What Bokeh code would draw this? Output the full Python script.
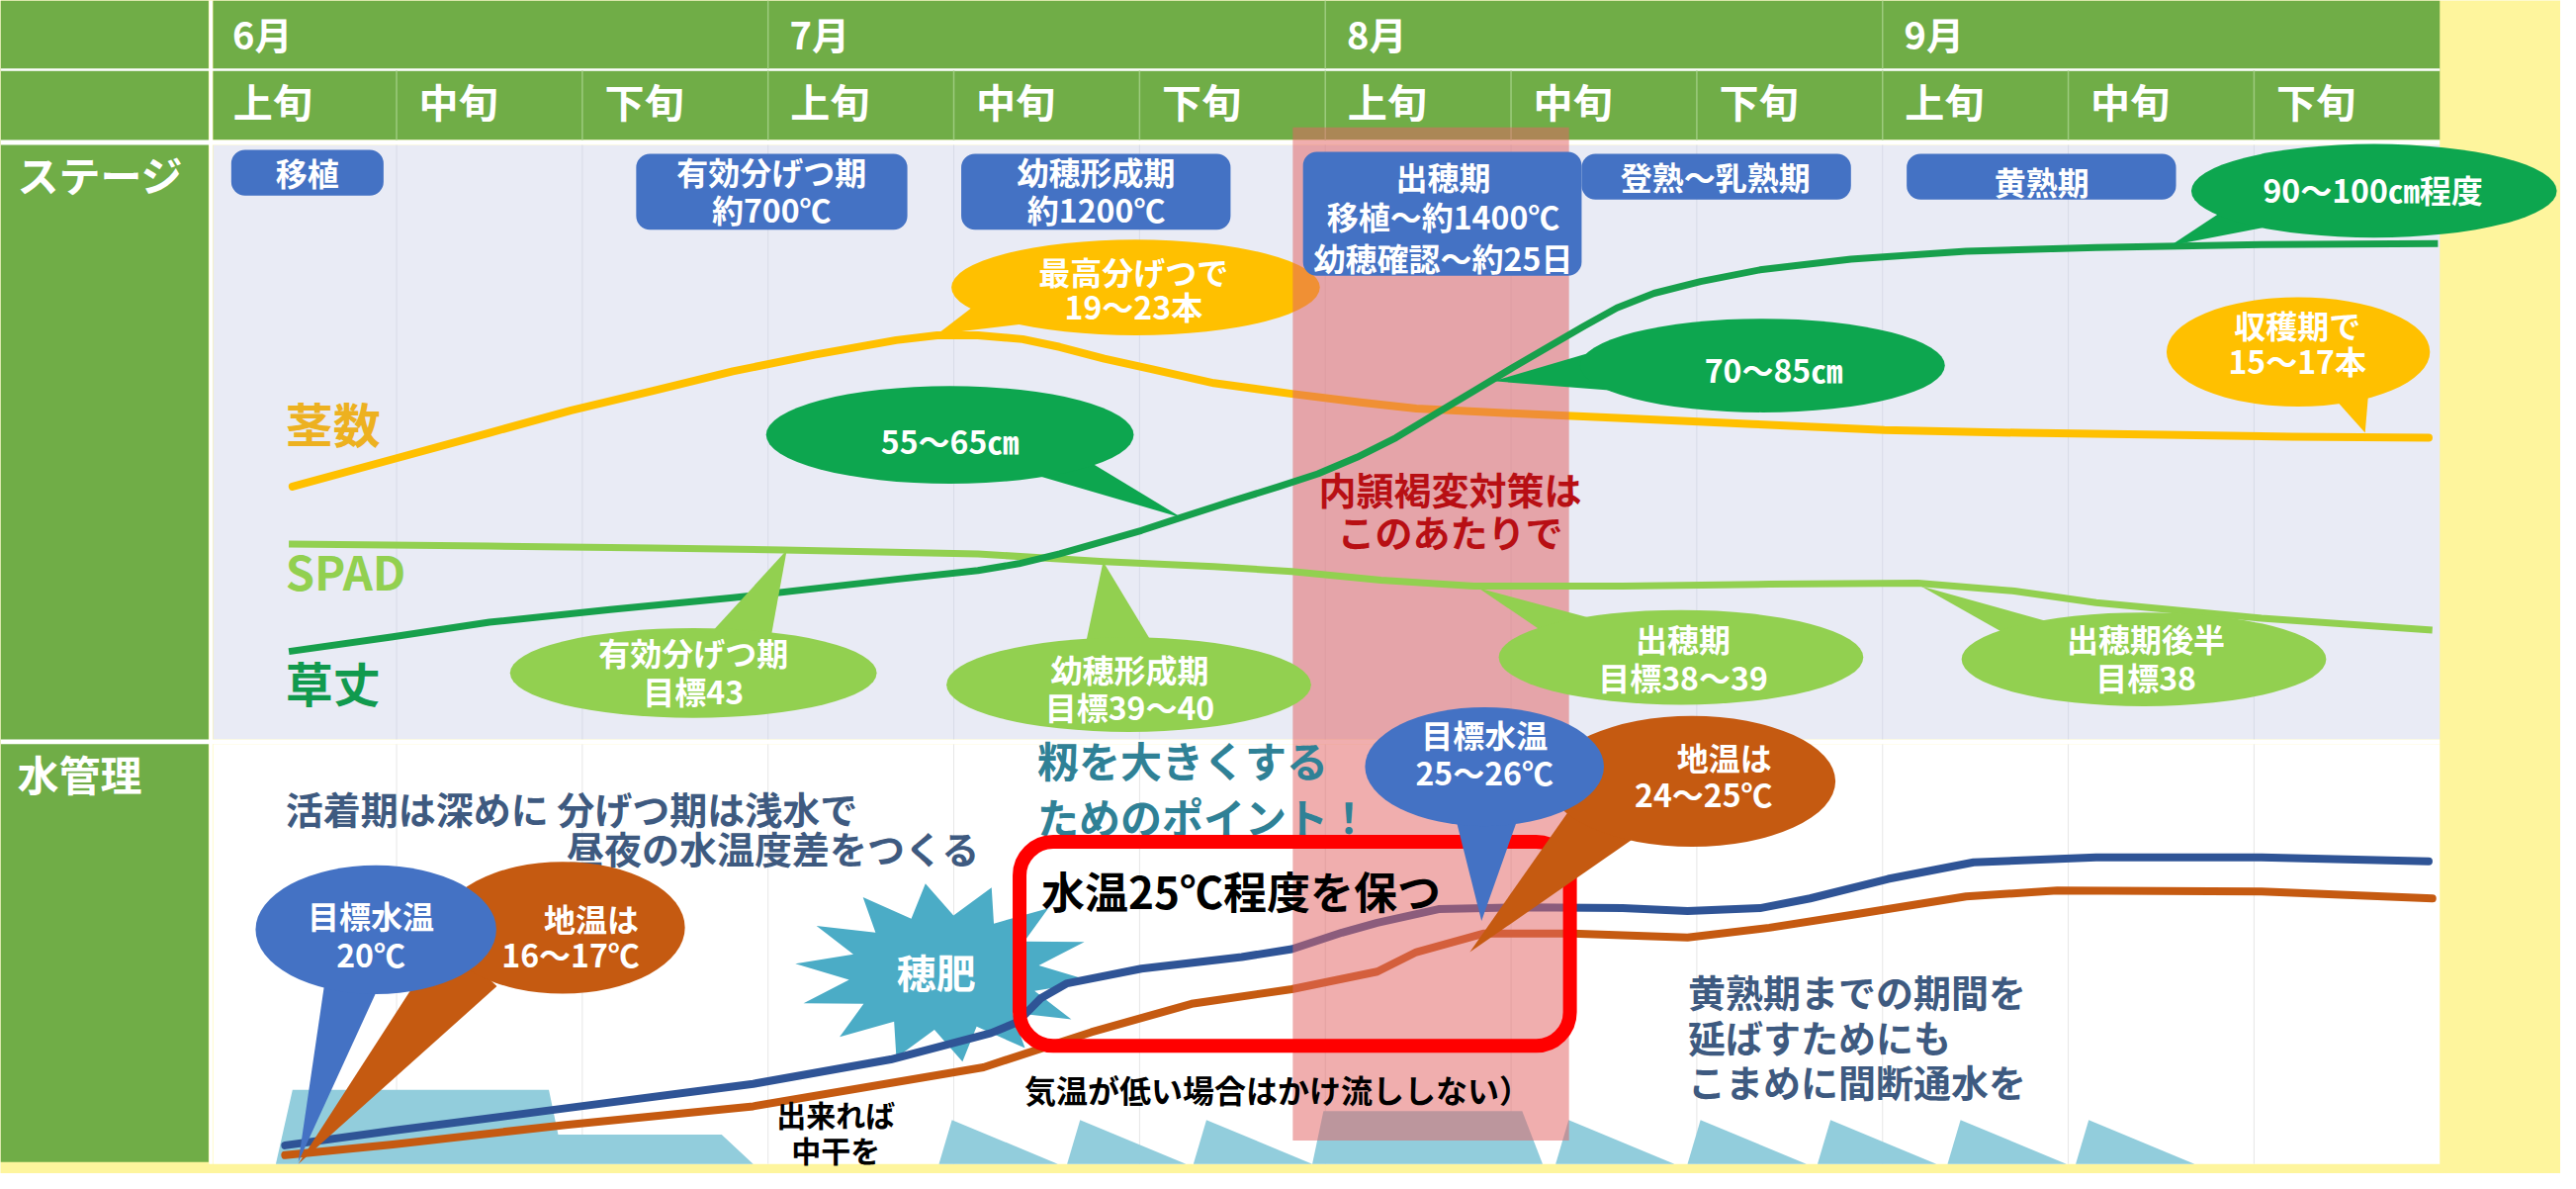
import numpy as np
from bokeh.plotting import figure
from bokeh.models import Range1d
from bokeh.core.properties import value
from bokeh.embed import file_html
from bokeh.resources import INLINE

# ---------------- data (x in dekads from 1 June, y in chart rows) ----------------
months = ["6月", "7月", "8月", "9月"]
dekads = ["上旬", "中旬", "下旬"]

stage_start = [0.11, 2.29, 4.04, 5.88, 7.38, 9.13]
stage_end = [0.93, 3.75, 5.49, 7.38, 8.83, 10.58]
stage_lines = [["移植"], ["有効分げつ期", "約700℃"], ["幼穂形成期", "約1200℃"],
               ["出穂期", "移植～約1400℃", "幼穂確認～約25日"], ["登熟～乳熟期"], ["黄熟期"]]

tiller_x = [0.44, 0.98, 1.50, 1.94, 2.38, 2.81, 3.25, 3.69, 3.91, 4.13, 4.37, 4.57, 4.81, 5.07,
            5.40, 5.82, 6.20, 6.49, 7.00, 7.60, 8.30, 9.01, 9.75, 10.51, 11.20, 11.94]
tiller_y = [498, 470, 443, 420, 400, 380, 363, 348, 343, 343, 347, 355, 367, 378,
            392, 403, 412, 418, 423, 428, 434, 440, 443, 445, 447, 448]

height_x = [0.42, 0.98, 1.50, 2.15, 2.81, 3.69, 4.13, 4.35, 4.57, 4.79, 5.01, 5.22, 5.48, 5.75,
            5.96, 6.17, 6.38, 6.59, 6.80, 7.01, 7.20, 7.39, 7.57, 7.77, 8.02, 8.34, 8.83, 9.45,
            10.15, 11.04, 11.99]
height_y = [667, 652, 637, 624, 612, 593, 584, 577, 567, 555, 543, 530, 514, 498,
            485, 468, 448, 424, 400, 376, 355, 334, 315, 300, 288, 276, 265, 257,
            253, 250, 249]

spad_x = [0.42, 1.50, 2.38, 3.08, 4.13, 4.81, 5.40, 5.82, 6.30, 6.80, 7.60, 8.39, 9.19, 9.71,
          10.15, 11.04, 11.96]
spad_y = [557, 559, 561, 563, 567, 575, 580, 585, 594, 600, 600, 598, 597, 605,
          617, 633, 645]

water_x = [0.40, 0.98, 1.91, 2.92, 3.66, 4.20, 4.34, 4.47, 4.61, 5.01, 5.55, 5.82, 6.09, 6.28,
           6.61, 7.07, 7.60, 7.95, 8.34, 8.61, 9.03, 9.49, 10.15, 11.04, 11.94]
water_y = [1173, 1158, 1135, 1110, 1085, 1058, 1047, 1022, 1007, 992, 980, 972, 955, 945,
           931, 929, 930, 933, 930, 920, 900, 883, 878, 878, 882]

soil_x = [0.40, 0.98, 1.91, 2.92, 4.16, 4.74, 5.28, 5.82, 6.28, 6.49, 6.85, 7.33, 7.95, 8.39,
          8.83, 9.45, 9.94, 11.04, 11.96]
soil_y = [1183, 1172, 1152, 1133, 1093, 1057, 1028, 1013, 995, 975, 956, 956, 960, 950,
          937, 918, 912, 913, 920]

flood_x = [0.35, 0.44, 1.82, 1.87, 2.75, 2.92]
flood_y = [1192, 1116, 1116, 1162, 1162, 1192]
heading_flood_x = [5.93, 5.99, 7.06, 7.17]
heading_flood_y = [1192, 1138, 1138, 1192]
irrigation_start = [3.92, 4.61, 5.29, 7.24, 7.95, 8.65, 9.35, 10.04]

focus_band = [5.825, 7.312]

# ---------------- figure ----------------
FONT = value("Noto Sans CJK JP")
W, H = 2589, 1186
XMIN, XMAX = -1.1323, 12.6508
PX = 189.0  # reference pixels per dekad

p = figure(width=W, height=H, x_range=Range1d(XMIN, XMAX), y_range=Range1d(1202, 0),
           output_backend="svg", toolbar_location=None, min_border=0)
p.axis.visible = False
p.grid.visible = False
p.outline_line_color = None
YEL = "#FEF59D"
p.background_fill_color = YEL
p.border_fill_color = YEL

GREEN = "#70AD47"
LAV = "#E9EBF5"
BLUE = "#4472C4"
ORANGE = "#C55A11"
DKG = "#0DA64F"
LTG = "#92D050"
NARR = "#3E5A80"


def label(x, y, text, color="white", size=32, align="center", bold=True):
    p.text(x=[x], y=[y], text=[text], text_color=color, text_font=FONT,
           text_font_size=value(f"{size}px"), text_align=align, text_baseline="middle",
           text_font_style="bold" if bold else "normal")


def bubble(cx, cy, w, h, color, tail):
    tx, ty = zip(*tail)
    p.patch(list(tx), list(ty), fill_color=color, line_color=None)
    p.ellipse(x=[cx], y=[cy], width=[w], height=[h], fill_color=color, line_color=None)


# backgrounds
p.quad(left=[XMIN], right=[-0.012], top=[0], bottom=[1190], fill_color=GREEN, line_color=None)
p.quad(left=[0.012], right=[12.0], top=[0], bottom=[143], fill_color=GREEN, line_color=None)
p.quad(left=[0.012], right=[12.0], top=[148], bottom=[757], fill_color=LAV, line_color=None)
p.quad(left=[0.012], right=[12.0], top=[762], bottom=[1192], fill_color="white", line_color=None)
p.quad(left=[XMIN], right=[12.0], top=[143], bottom=[148], fill_color="white", line_color=None)
p.quad(left=[XMIN], right=[12.0], top=[757], bottom=[762], fill_color="white", line_color=None)
p.segment(x0=[XMIN], x1=[12.0], y0=[71], y1=[71], line_color="white", line_width=2.5)
p.segment(x0=[0], x1=[0], y0=[0], y1=[1192], line_color="white", line_width=3.5)

# header lines and labels
p.segment(x0=[3, 6, 9], x1=[3, 6, 9], y0=[0] * 3, y1=[70] * 3, line_color="#9DCB7E", line_width=1.5)
k = list(range(1, 12))
p.segment(x0=k, x1=k, y0=[72] * 11, y1=[143] * 11, line_color="#9DCB7E", line_width=1.5)
for i, m in enumerate(months):
    label(i * 3 + 0.116, 33, m, size=38, align="left")
    for j, d in enumerate(dekads):
        label(i * 3 + j + 0.12, 103, d, size=40, align="left")
label(-1.042, 177, "ステージ", size=42, align="left")
label(-1.042, 792, "水管理", size=42, align="left")

# grid in sections
p.segment(x0=k, x1=k, y0=[148] * 11, y1=[757] * 11, line_color="#D8DBE7", line_width=1)
p.segment(x0=k, x1=k, y0=[762] * 11, y1=[1192] * 11, line_color="#E6E6E6", line_width=1)

# water depth
p.patch(flood_x, flood_y, fill_color="#92CDDC", line_color=None)
p.patch(heading_flood_x, heading_flood_y, fill_color="#92CDDC", line_color=None)
p.patches([[s, s + 0.07, s + 0.64] for s in irrigation_start],
          [[1192, 1147, 1192] for _ in irrigation_start], fill_color="#92CDDC", line_color=None)

# tiller curve + bubbles
p.line(tiller_x, tiller_y, line_color="#FFC000", line_width=8, line_join="round", line_cap="round")
bubble(4.979, 294, 1.984, 98, "#FFC000", [(3.910, 342), (4.116, 312), (4.439, 330)])
bubble(11.238, 360, 1.418, 112, "#FFC000", [(11.598, 443), (11.397, 400), (11.619, 395)])

# star (穂肥)
ang = np.linspace(0, 2 * np.pi, 28, endpoint=False) + 0.1
rad = np.where(np.arange(28) % 2 == 0, 1.0, 0.64)
p.patch(list(3.947 + 152 / PX * rad * np.cos(ang)), list(996 + 92 * rad * np.sin(ang)),
        fill_color="#4BACC6", line_color=None)

# water temperature lines
p.line(water_x, water_y, line_color="#2F5496", line_width=8, line_join="round", line_cap="round")
p.line(soil_x, soil_y, line_color=ORANGE, line_width=8, line_join="round", line_cap="round")

# focus band
p.quad(left=[focus_band[0]], right=[focus_band[1]], top=[130], bottom=[1168],
       fill_color="#E26464", fill_alpha=0.52, line_color=None)

# plant height and SPAD curves
p.line(spad_x, spad_y, line_color=LTG, line_width=7, line_join="round")
p.line(height_x, height_y, line_color="#17A04C", line_width=7, line_join="round")

# stage boxes
p.quad(left=stage_start, right=stage_end, top=[153, 157, 157, 155, 157, 157],
       bottom=[200, 235, 235, 282, 204, 204], fill_color=BLUE, line_color=None, border_radius=14)
box_text_x = [0.519, 3.019, 4.767, 6.635, 8.10, 9.857]
box_text_y = [[176], [175, 213], [175, 213], [180, 220, 263], [180], [185]]
for bx, bys, lines in zip(box_text_x, box_text_y, stage_lines):
    for by, t in zip(bys, lines):
        label(bx, by, t, size=32)

# tiller bubble texts
label(4.968, 277, "最高分げつで", size=32)
label(4.968, 313, "19～23本", size=32)
label(11.233, 332, "収穫期で", size=32)
label(11.233, 368, "15～17本", size=32)

# plant height bubbles
bubble(3.979, 445, 1.979, 100, DKG, [(5.228, 530), (4.418, 485), (4.725, 472)])
bubble(8.354, 374, 1.963, 96, DKG, [(6.905, 390), (7.440, 360), (7.580, 400)])
bubble(11.646, 195, 1.968, 96, DKG, [(10.550, 251), (10.830, 216), (11.120, 230)])
label(3.979, 450, "55～65㎝", size=32)
label(8.413, 378, "70～85㎝", size=32)
label(11.640, 193, "90～100㎝程度", size=32)

# SPAD bubbles
bubble(2.598, 689, 1.974, 92, LTG, [(3.101, 563), (2.683, 650), (3.016, 652)])
bubble(4.942, 701, 1.963, 97, LTG, [(4.804, 575), (4.709, 660), (5.074, 660)])
bubble(7.915, 673, 1.963, 97, LTG, [(6.825, 602), (7.180, 648), (7.490, 636)])
bubble(10.407, 675, 1.963, 96, LTG, [(9.206, 600), (9.670, 650), (9.960, 640)])
label(2.598, 667, "有効分げつ期", size=32)
label(2.598, 707, "目標43", size=32)
label(4.947, 685, "幼穂形成期", size=32)
label(4.947, 723, "目標39～40", size=32)
label(7.926, 653, "出穂期", size=32)
label(7.926, 693, "目標38～39", size=32)
label(10.418, 653, "出穂期後半", size=32)
label(10.418, 693, "目標38", size=32)

# curve labels
label(0.402, 432, "茎数", color="#EDB120", size=48, align="left")
label(0.402, 584, "SPAD", color=LTG, size=47, align="left")
label(0.402, 698, "草丈", color="#119A4E", size=48, align="left")

label(6.672, 500, "内頴褐変対策は", color="#B80F14", size=38)
label(6.672, 543, "このあたりで", color="#B80F14", size=38)

# water management texts
label(0.402, 827, "活着期は深めに 分げつ期は浅水で", color=NARR, size=38, align="left")
label(1.915, 868, "昼夜の水温度差をつくる", color=NARR, size=38, align="left")
label(4.450, 777, "籾を大きくする", color="#2F8196", size=42, align="left")
label(4.450, 835, "ためのポイント！", color="#2F8196", size=42, align="left")
label(4.471, 912, "水温25℃程度を保つ", color="black", size=44, align="left")
label(4.381, 1115, "気温が低い場合はかけ流ししない）", color="black", size=32, align="left")
label(3.365, 1141, "出来れば", color="black", size=30)
label(3.365, 1177, "中干を", color="black", size=30)
label(7.952, 1015, "黄熟期までの期間を", color=NARR, size=38, align="left")
label(7.952, 1061, "延ばすためにも", color=NARR, size=38, align="left")
label(7.952, 1107, "こまめに間断通水を", color=NARR, size=38, align="left")
label(3.905, 995, "穂肥", size=40)

# red box
p.quad(left=[4.354], right=[7.317], top=[862], bottom=[1071], fill_alpha=0, line_color="#FF0000",
       line_width=14, border_radius=34)

# water temperature bubbles
bubble(1.894, 950, 1.317, 135, ORANGE, [(0.471, 1192), (1.259, 960), (1.540, 1010)])
bubble(0.889, 952, 1.296, 132, BLUE, [(0.471, 1190), (0.614, 1005), (0.905, 1010)])
bubble(7.974, 800, 1.545, 134, ORANGE, [(6.778, 975), (7.312, 830), (7.688, 855)])
bubble(6.857, 785, 1.286, 122, BLUE, [(6.841, 943), (6.698, 835), (7.042, 835)])
label(0.862, 937, "目標水温", size=32)
label(0.862, 977, "20℃", size=32)
label(2.048, 940, "地温は", size=32)
label(1.937, 977, "16～17℃", size=32)
label(6.857, 752, "目標水温", size=32)
label(6.857, 790, "25～26℃", size=32)
label(8.148, 775, "地温は", size=32)
label(8.037, 812, "24～25℃", size=32)

open("out.html", "w").write(file_html(p, INLINE))
